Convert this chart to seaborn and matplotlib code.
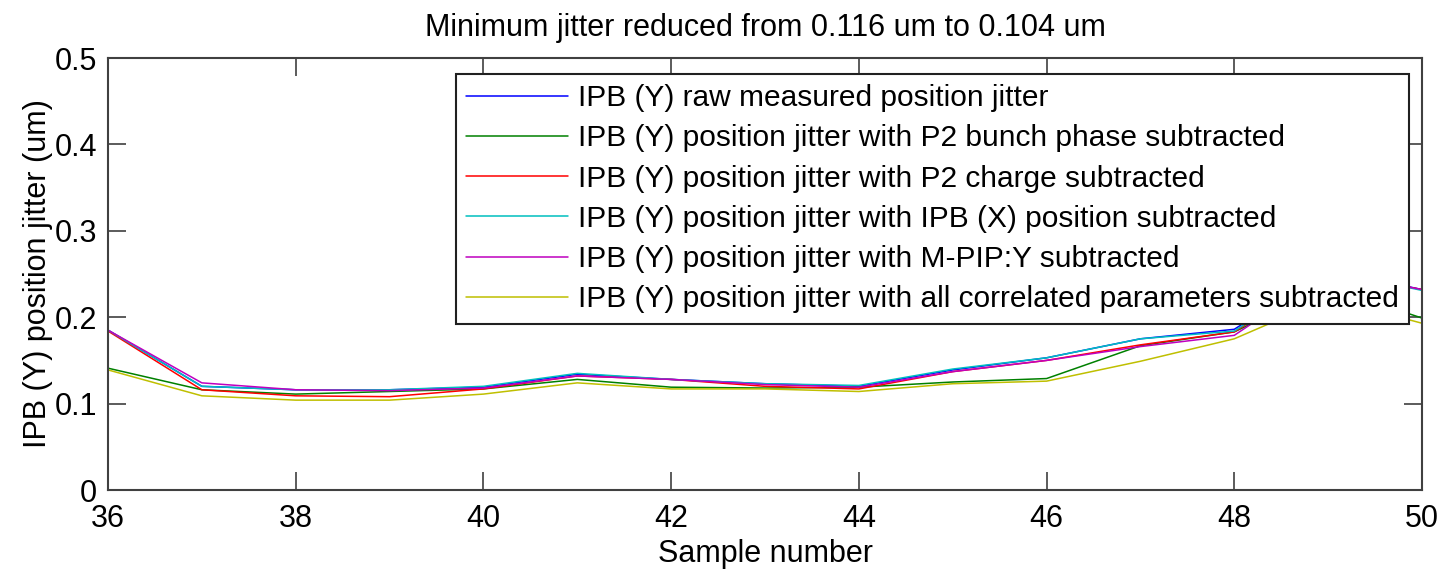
import matplotlib
matplotlib.use("Agg")
import matplotlib.pyplot as plt
import seaborn as sns
import pandas as pd

samples = list(range(36, 51))
raw = [0.185, 0.120, 0.116, 0.116, 0.119, 0.134, 0.128, 0.123, 0.120, 0.139, 0.153, 0.175, 0.186, 0.255, 0.232]
p2_phase = [0.141, 0.116, 0.111, 0.114, 0.117, 0.128, 0.119, 0.118, 0.119, 0.125, 0.129, 0.167, 0.183, 0.235, 0.199]
p2_charge = [0.184, 0.116, 0.109, 0.108, 0.117, 0.132, 0.128, 0.120, 0.117, 0.137, 0.150, 0.168, 0.183, 0.252, 0.232]
ipbx = [0.185, 0.120, 0.116, 0.116, 0.120, 0.135, 0.128, 0.123, 0.121, 0.140, 0.153, 0.175, 0.184, 0.254, 0.231]
mpip = [0.185, 0.124, 0.116, 0.115, 0.118, 0.132, 0.128, 0.122, 0.119, 0.137, 0.150, 0.166, 0.179, 0.252, 0.232]
all_corr = [0.139, 0.109, 0.104, 0.104, 0.111, 0.124, 0.117, 0.117, 0.114, 0.123, 0.126, 0.149, 0.175, 0.222, 0.193]

labels = [
    "IPB (Y) raw measured position jitter",
    "IPB (Y) position jitter with P2 bunch phase subtracted",
    "IPB (Y) position jitter with P2 charge subtracted",
    "IPB (Y) position jitter with IPB (X) position subtracted",
    "IPB (Y) position jitter with M-PIP:Y subtracted",
    "IPB (Y) position jitter with all correlated parameters subtracted",
]
series = [raw, p2_phase, p2_charge, ipbx, mpip, all_corr]
colors = ["#0000ff", "#008000", "#ff0000", "#00bfbf", "#bf00bf", "#bfbf00"]

rows = []
for lab, vals in zip(labels, series):
    for s, v in zip(samples, vals):
        rows.append({"Sample": s, "Jitter": v, "Series": lab})
df = pd.DataFrame(rows)

sns.set_style("white")
plt.rcParams["font.family"] = ["Liberation Sans", "DejaVu Sans"]
plt.rcParams["text.color"] = "black"
plt.rcParams["axes.labelcolor"] = "black"

fig = plt.figure(figsize=(14.43, 5.72), dpi=100)
ax = fig.add_axes([108 / 1443, 1 - 490 / 572, 1314 / 1443, 432 / 572])

sns.lineplot(data=df, x="Sample", y="Jitter", hue="Series", hue_order=labels,
             palette=dict(zip(labels, colors)), ax=ax, linewidth=1.1,
             estimator=None, errorbar=None)

ax.set_xlim(36, 50)
ax.set_ylim(0, 0.5)
ax.set_xticks([36, 38, 40, 42, 44, 46, 48, 50])
ax.set_yticks([0, 0.1, 0.2, 0.3, 0.4, 0.5])
ax.set_yticklabels(["0", "0.1", "0.2", "0.3", "0.4", "0.5"])
ax.tick_params(direction="in", length=13, width=1.2, labelsize=22, colors="#404040",
               labelcolor="black", top=True, right=True, bottom=True, left=True)
ax.tick_params(axis="x", pad=10)
ax.tick_params(axis="y", pad=8)
for sp in ax.spines.values():
    sp.set_color("#404040")
    sp.set_linewidth(1.5)
    sp.set_visible(True)

ax.set_xlabel("Sample number", fontsize=22, labelpad=4)
ax.set_ylabel("IPB (Y) position jitter (um)", fontsize=22, labelpad=1)
ax.set_title("Minimum jitter reduced from 0.116 um to 0.104 um", fontsize=22, pad=16)

leg = ax.legend(loc="upper right", bbox_to_anchor=(0.9901, 0.963), borderaxespad=0,
                fontsize=21.5, frameon=True, fancybox=False, handlelength=3.4,
                labelspacing=0.41, borderpad=0.34, handletextpad=0.35)
leg.get_frame().set_edgecolor("#202020")
leg.get_frame().set_linewidth(1.5)
leg.get_frame().set_alpha(1)

fig.savefig("out.png", dpi=100)
